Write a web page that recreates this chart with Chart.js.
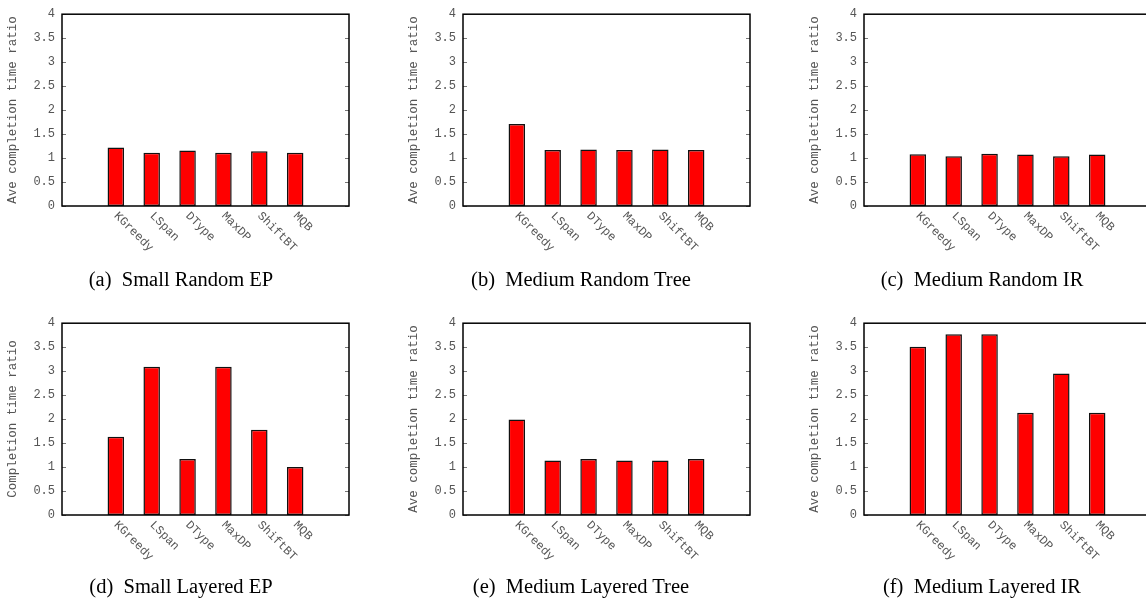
<!DOCTYPE html>
<html>
<head>
<meta charset="utf-8">
<script src="https://cdn.jsdelivr.net/npm/chart.js@4.4.1/dist/chart.umd.min.js"></script>
<style>
  body { margin: 0; background: #fff; width: 1146px; height: 602px; overflow: hidden; position: relative; }
  canvas.panel { position: absolute; }
  .cap { position: absolute; width: 300px; text-align: center; font-family: "Liberation Serif", serif; font-size: 20.5px; line-height: 24px; color: #000; white-space: pre; }
</style>
</head>
<body>
<canvas id="c0" class="panel" width="401" height="301" style="left:0px;top:0px"></canvas>
<canvas id="c1" class="panel" width="401" height="301" style="left:401px;top:0px"></canvas>
<canvas id="c2" class="panel" width="401" height="301" style="left:802px;top:0px"></canvas>
<canvas id="c3" class="panel" width="401" height="301" style="left:0px;top:309px"></canvas>
<canvas id="c4" class="panel" width="401" height="301" style="left:401px;top:309px"></canvas>
<canvas id="c5" class="panel" width="401" height="301" style="left:802px;top:309px"></canvas>
<div class="cap" style="left:31px;top:267px">(a)  Small Random EP</div>
<div class="cap" style="left:431px;top:267px">(b)  Medium Random Tree</div>
<div class="cap" style="left:832px;top:267px">(c)  Medium Random IR</div>
<div class="cap" style="left:31px;top:574px">(d)  Small Layered EP</div>
<div class="cap" style="left:431px;top:574px">(e)  Medium Layered Tree</div>
<div class="cap" style="left:832px;top:574px">(f)  Medium Layered IR</div>
<script>
// algorithms on the x axis
const categories = ['KGreedy', 'LSpan', 'DType', 'MaxDP', 'ShiftBT', 'MQB'];

// average completion time ratio, one array per panel
const smallRandomEP     = [1.22, 1.11, 1.16, 1.11, 1.14, 1.11];
const mediumRandomTree  = [1.71, 1.17, 1.18, 1.17, 1.18, 1.17];
const mediumRandomIR    = [1.08, 1.035, 1.09, 1.075, 1.035, 1.075];
const smallLayeredEP    = [1.63, 3.09, 1.17, 3.09, 1.78, 1.0];
const mediumLayeredTree = [1.99, 1.135, 1.17, 1.135, 1.135, 1.17];
const mediumLayeredIR   = [3.51, 3.77, 3.77, 2.13, 2.95, 2.13];

const yTitles = ['Ave completion time ratio', 'Ave completion time ratio', 'Ave completion time ratio',
                 'Completion time ratio', 'Ave completion time ratio', 'Ave completion time ratio'];
const yMin = 0, yMax = 4, yStep = 0.5;

const panels = [smallRandomEP, mediumRandomTree, mediumRandomIR, smallLayeredEP, mediumLayeredTree, mediumLayeredIR];

const gray = '#555';
const mono = '"Liberation Mono", "DejaVu Sans Mono", monospace';

// gnuplot-like frame, inward ticks and slanted labels
const framePlugin = {
    id: 'frame',
    afterDraw(chart) {
        const ctx = chart.ctx;
        const a = chart.chartArea;
        const x = chart.scales.x, y = chart.scales.y;
        ctx.save();
        ctx.strokeStyle = '#777';
        ctx.lineWidth = 1;
        y.ticks.forEach(t => {
            const py = Math.round(y.getPixelForValue(t.value)) + 0.5;
            ctx.beginPath();
            ctx.moveTo(a.left, py); ctx.lineTo(a.left + 4, py);
            ctx.moveTo(a.right, py); ctx.lineTo(a.right - 4, py);
            ctx.stroke();
        });
        ctx.strokeStyle = '#000';
        ctx.lineWidth = 1.5;
        ctx.strokeRect(a.left, a.top, a.right - a.left, a.bottom - a.top);

        ctx.font = '12px ' + mono;
        ctx.fillStyle = gray;
        ctx.textAlign = 'left';
        ctx.textBaseline = 'middle';
        chart.data.labels.forEach((lbl, i) => {
            if (!lbl) return;
            const px = x.getPixelForValue(i);
            ctx.save();
            ctx.translate(px, a.bottom + 8);
            ctx.rotate(Math.PI / 4);
            ctx.fillText(lbl, 0, 0);
            ctx.restore();
        });
        ctx.restore();
    }
};

panels.forEach((values, i) => {
    new Chart(document.getElementById('c' + i).getContext('2d'), {
        type: 'bar',
        data: {
            labels: [''].concat(categories, ['']),
            datasets: [{
                data: [null].concat(values, [null]),
                backgroundColor: '#ff0000',
                borderColor: '#111111',
                borderWidth: 1.5,
                borderSkipped: false,
                barPercentage: 0.46,
                categoryPercentage: 1
            }]
        },
        options: {
            responsive: false,
            animation: false,
            layout: { padding: { left: 0, top: 7, right: 52, bottom: 0 } },
            plugins: {
                legend: { display: false },
                tooltip: { enabled: false }
            },
            scales: {
                x: {
                    grid: { display: false },
                    border: { display: false },
                    ticks: { display: false },
                    afterFit: function(scale) { scale.height = 95; }
                },
                y: {
                    min: yMin,
                    max: yMax,
                    grid: { display: false, drawTicks: false },
                    border: { display: false },
                    ticks: {
                        stepSize: yStep,
                        padding: 7,
                        color: gray,
                        font: { family: mono, size: 12 },
                        callback: function(v) { return String(v); }
                    },
                    title: {
                        display: true,
                        text: yTitles[i],
                        color: gray,
                        font: { family: mono, size: 12.5 },
                        padding: { top: 5, bottom: 0 }
                    },
                    afterFit: function(scale) { scale.width = 62; }
                }
            }
        },
        plugins: [framePlugin]
    });
});
</script>
</body>
</html>
